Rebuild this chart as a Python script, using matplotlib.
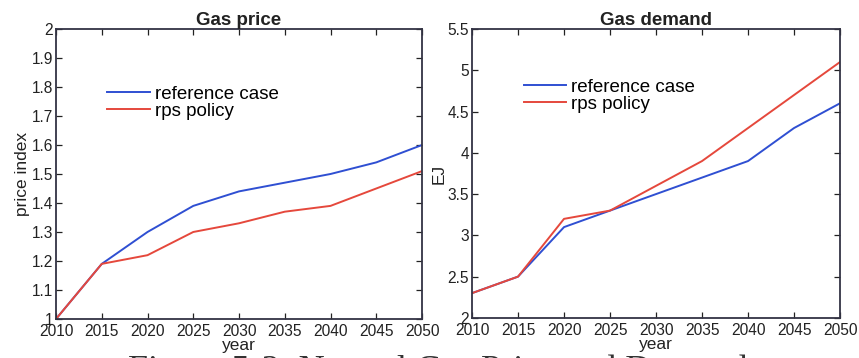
import matplotlib
matplotlib.use("Agg")
import matplotlib.pyplot as plt

plt.rcParams['font.family'] = ['Liberation Sans', 'DejaVu Sans']

years = [2010, 2015, 2020, 2025, 2030, 2035, 2040, 2045, 2050]

price_reference = [1.00, 1.19, 1.30, 1.39, 1.44, 1.47, 1.50, 1.54, 1.60]
price_rps = [1.00, 1.19, 1.22, 1.30, 1.33, 1.37, 1.39, 1.45, 1.51]

demand_reference = [2.3, 2.5, 3.1, 3.3, 3.5, 3.7, 3.9, 4.3, 4.6]
demand_rps = [2.3, 2.5, 3.2, 3.3, 3.6, 3.9, 4.3, 4.7, 5.1]

series_labels = ["reference case", "rps policy"]
price_ticks = [1.0, 1.1, 1.2, 1.3, 1.4, 1.5, 1.6, 1.7, 1.8, 1.9, 2.0]
price_ticklabels = ["1", "1.1", "1.2", "1.3", "1.4", "1.5", "1.6", "1.7", "1.8", "1.9", "2"]
demand_ticks = [2.0, 2.5, 3.0, 3.5, 4.0, 4.5, 5.0, 5.5]
demand_ticklabels = ["2", "2.5", "3", "3.5", "4", "4.5", "5", "5.5"]

BLUE = "#2f4fd2"
RED = "#e5483c"

fig = plt.figure(figsize=(8.59, 3.58), dpi=100)
ax1 = fig.add_axes([0.0652, 0.109, 0.4261, 0.810])
ax2 = fig.add_axes([0.5495, 0.112, 0.4284, 0.807])


def style_axes(ax, ticks, ticklabels, title, ylabel, legend_anchor):
    ax.set_xlim(2010, 2050)
    ax.set_ylim(ticks[0], ticks[-1])
    ax.set_xticks(years)
    ax.set_yticks(ticks)
    ax.set_yticklabels(ticklabels)
    ax.tick_params(direction="in", top=True, right=True, length=4, width=0.9,
                   labelsize=11.2, pad=2, color="#222222", labelcolor="#222222")
    ax.tick_params(axis="x", pad=3.5)
    for s in ax.spines.values():
        s.set_linewidth(1.3)
        s.set_color("#333344")
    ax.set_title(title, fontsize=13.5, fontweight="bold", pad=3, color="#222222")
    ax.set_xlabel("year", fontsize=12.5, labelpad=-0.5, color="#222222")
    ax.set_ylabel(ylabel, fontsize=12.5, labelpad=1, color="#222222")
    ax.legend(series_labels, loc="upper left", bbox_to_anchor=legend_anchor,
              frameon=False, fontsize=13.5, handlelength=2.25, handletextpad=0.3,
              labelspacing=0.0, borderaxespad=0)


ax1.plot(years, price_reference, color=BLUE, lw=1.4)
ax1.plot(years, price_rps, color=RED, lw=1.4)
style_axes(ax1, price_ticks, price_ticklabels, "Gas price", "price index", (0.12, 0.83))

ax2.plot(years, demand_reference, color=BLUE, lw=1.4)
ax2.plot(years, demand_rps, color=RED, lw=1.4)
style_axes(ax2, demand_ticks, demand_ticklabels, "Gas demand", "EJ", (0.12, 0.855))

fig.text(128 / 859, 1 - 355 / 358, "Figure 5-3: Natural Gas Price and Demand",
         family=["Liberation Serif", "DejaVu Serif"], fontsize=26, va="top",
         ha="left", color="#333333")

fig.savefig("out.png", dpi=100)
